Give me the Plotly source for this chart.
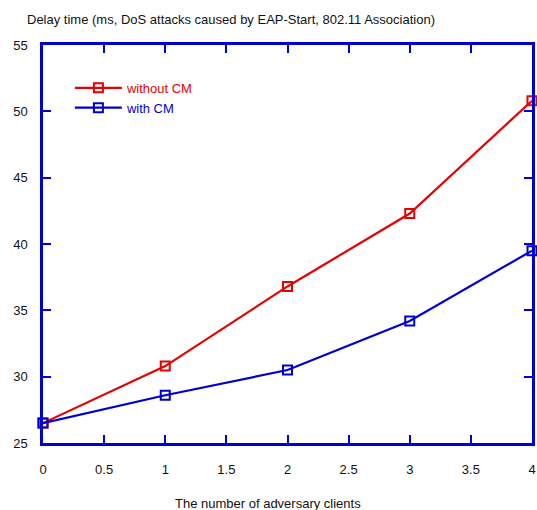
import plotly.graph_objects as go

clients = [0, 1, 2, 3, 4]
without_cm = [26.5, 30.8, 36.8, 42.3, 50.8]
with_cm = [26.5, 28.6, 30.5, 34.2, 39.5]
x_ticks = [0, 0.5, 1, 1.5, 2, 2.5, 3, 3.5, 4]
x_ticklabels = ["0", "0.5", "1", "1.5", "2", "2.5", "3", "3.5", "4"]
y_ticks = [25, 30, 35, 40, 45, 50, 55]

RED = "rgb(230,0,0)"
BLUE = "rgb(0,0,210)"
FONT = "Liberation Sans, Arial, sans-serif"
FS = 13

fig = go.Figure()
fig.add_trace(go.Scatter(
    x=clients, y=without_cm, mode="lines+markers",
    name=f"<span style='color:{RED}'>without CM</span>",
    line=dict(color=RED, width=2.2),
    marker=dict(symbol="square-open", size=9, color=RED, line=dict(width=2, color=RED)),
    cliponaxis=False,
))
fig.add_trace(go.Scatter(
    x=clients, y=with_cm, mode="lines+markers",
    name=f"<span style='color:{BLUE}'>with CM</span>",
    line=dict(color=BLUE, width=2.2),
    marker=dict(symbol="square-open", size=9, color=BLUE, line=dict(width=2, color=BLUE)),
    cliponaxis=False,
))

axis_common = dict(
    showline=True, linecolor=BLUE, linewidth=2.5, mirror="ticks",
    ticks="inside", ticklen=8, tickwidth=2, tickcolor=BLUE,
    showgrid=False, zeroline=False, automargin=False,
    tickfont=dict(family=FONT, size=FS, color="#111"),
)

fig.update_layout(
    width=537, height=510,
    margin=dict(l=43, r=5, t=45, b=67),
    paper_bgcolor="white", plot_bgcolor="white",
    font=dict(family=FONT, size=FS, color="#111"),
    title=dict(
        text="Delay time (ms, DoS attacks caused by EAP-Start, 802.11 Association)",
        x=27 / 537, xanchor="left", xref="container",
        y=1 - 19 / 510, yanchor="middle", yref="container",
        font=dict(family=FONT, size=FS, color="#111"),
    ),
    xaxis=dict(range=[0, 4], tickvals=x_ticks, ticktext=x_ticklabels,
               ticklabelstandoff=13, **axis_common),
    yaxis=dict(range=[25, 55], tickvals=y_ticks,
               ticklabelstandoff=10, **axis_common),
    legend=dict(
        x=0.055, y=0.93, xanchor="left", yanchor="top",
        bgcolor="rgba(0,0,0,0)", borderwidth=0,
        font=dict(family=FONT, size=FS),
        tracegroupgap=0, itemwidth=47,
    ),
    showlegend=True,
    annotations=[dict(
        text="The number of adversary clients",
        xref="paper", yref="paper",
        x=(268 - 43) / 489, y=-(503 - 443) / 398,
        xanchor="center", yanchor="middle", showarrow=False,
        font=dict(family=FONT, size=FS, color="#111"),
    )],
)

fig.write_html("out.html")
